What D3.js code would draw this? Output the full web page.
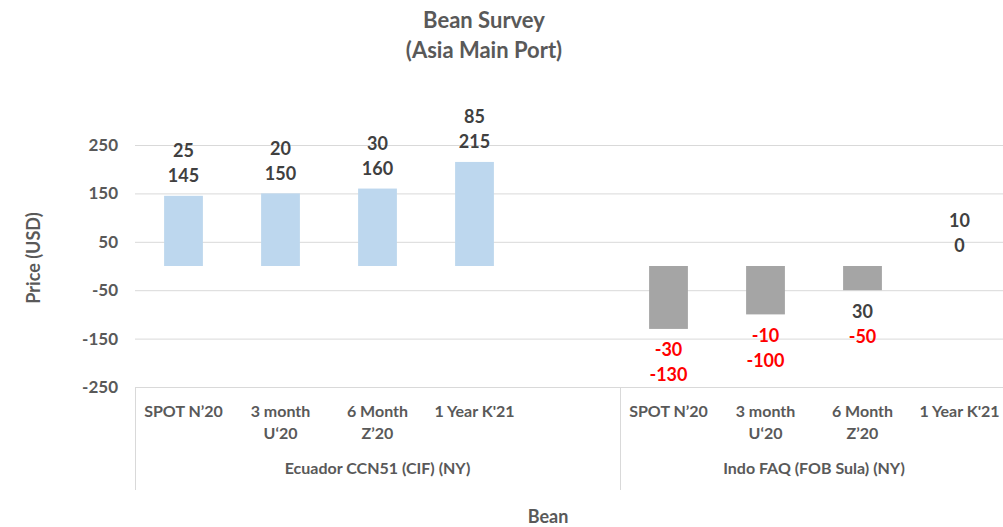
<!DOCTYPE html>
<html><head><meta charset="utf-8">
<script src="https://cdn.jsdelivr.net/npm/d3@7"></script>
<style>body{margin:0;background:#fff;} svg{display:block;font-family:Lato,"Open Sans",sans-serif;}</style>
</head><body>
<svg id="chart" width="1003" height="527"></svg>
<script>
const groups = ["Ecuador CCN51 (CIF) (NY)", "Indo FAQ (FOB Sula) (NY)"];
const groupSlots = [5, 4];
const categories = ["SPOT N’20", "3 month\nU‘20", "6 Month\nZ’20", "1 Year K'21", "", "SPOT N’20", "3 month\nU‘20", "6 Month\nZ’20", "1 Year K'21"];
const priceValues = [145, 150, 160, 215, null, -130, -100, -50, 0];
const changeValues = [25, 20, 30, 85, null, -30, -10, 30, 10];
const barColors = ["#bdd7ee", "#bdd7ee", "#bdd7ee", "#bdd7ee", null, "#a5a5a5", "#a5a5a5", "#a5a5a5", "#a5a5a5"];
const yTicks = [-250, -150, -50, 50, 150, 250];

const svg = d3.select("#chart");
const W = 1003, H = 527;
const plotLeft = 135, plotRight = 1008;
const x = d3.scaleBand().domain(d3.range(categories.length)).range([plotLeft, plotRight]).paddingInner(0).paddingOuter(0);
const y = d3.scaleLinear().domain([-250, 250]).range([387, 145]);
const grid = "#d9d9d9", tickCol = "#595959", labCol = "#404040";

svg.append("text").attr("x", 484).attr("y", 28).attr("text-anchor", "middle").attr("font-size", 22).attr("font-weight", 700).attr("fill", tickCol).text("Bean Survey");
svg.append("text").attr("x", 484).attr("y", 58).attr("text-anchor", "middle").attr("font-size", 22).attr("font-weight", 700).attr("fill", tickCol).text("(Asia Main Port)");

// gridlines
svg.append("g").selectAll("line").data(yTicks).join("line")
  .attr("x1", plotLeft).attr("x2", W).attr("y1", d => y(d) + 0.5).attr("y2", d => y(d) + 0.5)
  .attr("stroke", grid).attr("stroke-width", 1);

// y tick labels
svg.append("g").selectAll("text").data(yTicks).join("text")
  .attr("x", 118).attr("y", d => y(d)).attr("dy", "0.35em").attr("text-anchor", "end")
  .attr("font-size", 17).attr("font-weight", 700).attr("fill", tickCol).text(d => d);

svg.append("text").attr("transform", `translate(34,258) rotate(-90)`).attr("dy", "0.35em")
  .attr("text-anchor", "middle").attr("font-size", 18).attr("font-weight", 700).attr("fill", tickCol).text("Price (USD)");

// bars
const idx = d3.range(categories.length).filter(i => priceValues[i] !== null);
const bw = x.bandwidth() * 0.4;
svg.append("g").selectAll("rect").data(idx).join("rect")
  .attr("x", i => x(i) + (x.bandwidth() - bw) / 2).attr("width", bw)
  .attr("y", i => y(Math.max(0, priceValues[i]))).attr("height", i => Math.abs(y(priceValues[i]) - y(0)))
  .attr("fill", i => barColors[i]);

// data labels
const lab = svg.append("g").attr("font-size", 18).attr("font-weight", 700).attr("text-anchor", "middle");
idx.forEach(i => {
  const v = priceValues[i], c = changeValues[i];
  const cx = x(i) + x.bandwidth() / 2;
  let y1, y2;
  if (v >= 0) { y2 = y(v) - 20; y1 = y2 - 25; }
  else { y1 = y(v) + 21; y2 = y1 + 25; }
  lab.append("text").attr("x", cx).attr("y", y1).attr("dy", "0.35em").attr("fill", c < 0 ? "#ff0000" : labCol).text(c);
  lab.append("text").attr("x", cx).attr("y", y2).attr("dy", "0.35em").attr("fill", v < 0 ? "#ff0000" : labCol).text(v);
});

// category axis
const axisTop = y(-250), axisBot = 490;
let start = 0;
const bounds = [0];
groupSlots.forEach(n => { start += n; bounds.push(start); });
svg.append("g").selectAll("line").data(bounds).join("line")
  .attr("x1", b => (b < categories.length ? x(b) : W) + 0.5).attr("x2", b => (b < categories.length ? x(b) : W) + 0.5)
  .attr("y1", axisTop).attr("y2", axisBot).attr("stroke", grid);

const cl = svg.append("g").attr("font-size", 16).attr("font-weight", 700).attr("fill", tickCol).attr("text-anchor", "middle");
categories.forEach((c, i) => {
  const t = cl.append("text").attr("x", x(i) + x.bandwidth() / 2).attr("y", 417);
  c.split("\n").forEach((ln, k) => t.append("tspan").attr("x", x(i) + x.bandwidth() / 2).attr("dy", k ? 22 : 0).text(ln));
});
groups.forEach((g, gi) => {
  const a = x(bounds[gi]), b = bounds[gi + 1] < categories.length ? x(bounds[gi + 1]) : plotRight;
  cl.append("text").attr("x", (a + b) / 2).attr("y", 474).text(g);
});

svg.append("text").attr("x", 548).attr("y", 523).attr("text-anchor", "middle").attr("font-size", 18).attr("font-weight", 700).attr("fill", tickCol).text("Bean");
</script>
</body></html>
